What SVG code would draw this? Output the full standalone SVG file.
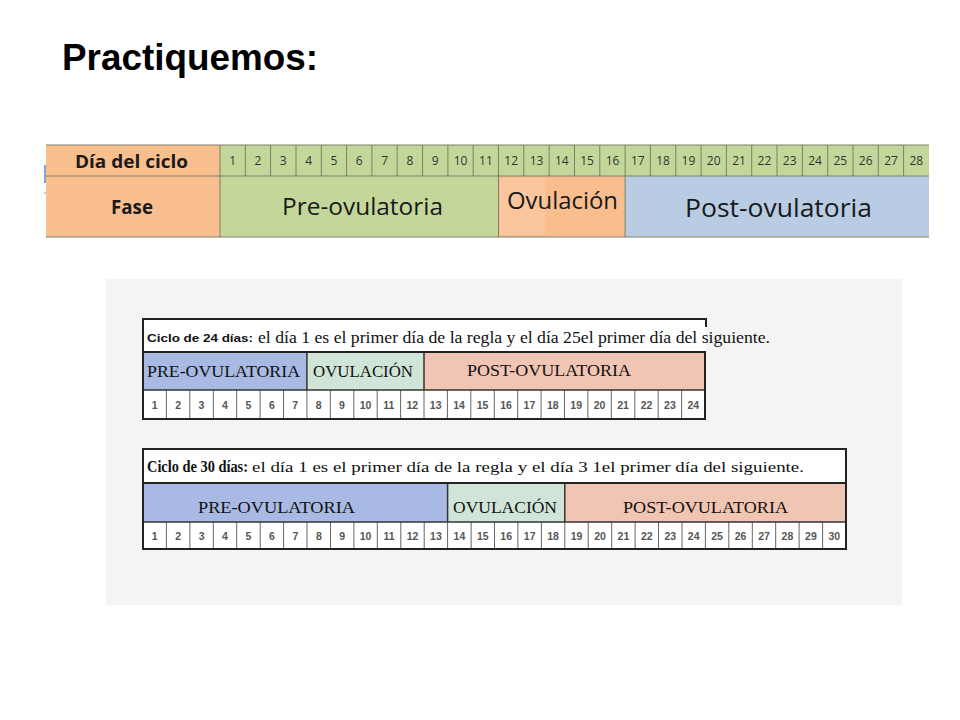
<svg xmlns="http://www.w3.org/2000/svg" width="960" height="720" viewBox="0 0 960 720">
<style>
.title{font-family:"Liberation Sans",Arial,sans-serif;font-weight:bold;font-size:37px;fill:#000}
.cal{font-family:"Open Sans","Noto Sans",sans-serif;fill:#1a1a1a}
.dnum{font-family:"Open Sans","Noto Sans",sans-serif;font-size:12px;fill:#333;text-anchor:middle}
.ser{font-family:"Liberation Serif","Times New Roman",serif;fill:#111}
.num{font-family:"Liberation Sans",Arial,sans-serif;font-weight:bold;font-size:10.5px;fill:#555;text-anchor:middle}
.tgrid{stroke:#7d8068;stroke-width:1;fill:none}
.grid{stroke:#666;stroke-width:1;fill:none}
.bord{stroke:#222;stroke-width:2;fill:none}
.sep{stroke:#333;stroke-width:1.5;fill:none}
</style>

<rect width="960" height="720" fill="#fff"/>
<text class="title" x="62" y="70" textLength="256" lengthAdjust="spacingAndGlyphs">Practiquemos:</text>

<g id="tabla-28">
  <rect x="46" y="145" width="174" height="92" fill="#FABF8F"/>
  <rect x="220" y="145" width="709" height="31" fill="#C4D79B"/>
  <rect x="220" y="176" width="278.5" height="61" fill="#C4D79B"/>
  <rect x="498.5" y="176" width="126.6" height="61" fill="#F9BD8E"/>
  <rect x="500" y="178" width="45" height="57" fill="#FBCBA6" opacity="0.6"/>
  <rect x="625.1" y="176" width="303.9" height="61" fill="#B8CCE4"/>
  <path class="tgrid" d="M46 145H929 M46 176H929 M46 237H929 M220 145V237 M498.5 176V237 M625.1 176V237"/>
  <path class="tgrid" d="M245.3 145V176 M270.6 145V176 M296 145V176 M321.3 145V176 M346.6 145V176 M371.9 145V176 M397.2 145V176 M422.6 145V176 M447.9 145V176 M473.2 145V176 M498.5 145V176 M523.8 145V176 M549.2 145V176 M574.5 145V176 M599.8 145V176 M625.1 145V176 M650.4 145V176 M675.8 145V176 M701.1 145V176 M726.4 145V176 M751.7 145V176 M777 145V176 M802.4 145V176 M827.7 145V176 M853 145V176 M878.3 145V176 M903.6 145V176"/>
  <line x1="45" y1="165" x2="45" y2="183" stroke="#5b88b8" stroke-width="1.5"/>
  <rect x="44.5" y="192.5" width="1" height="1" fill="#333"/>
  <text class="cal" x="75" y="168" font-size="18" font-weight="bold" textLength="113" lengthAdjust="spacingAndGlyphs">Día del ciclo</text>
  <text class="cal" x="111" y="214" font-size="19" font-weight="bold" textLength="42" lengthAdjust="spacingAndGlyphs">Fase</text>
  <text class="cal" x="282" y="215" font-size="24" textLength="161" lengthAdjust="spacingAndGlyphs">Pre-ovulatoria</text>
  <text class="cal" x="507" y="209" font-size="23" textLength="111" lengthAdjust="spacingAndGlyphs">Ovulación</text>
  <text class="cal" x="685" y="217" font-size="26" textLength="187" lengthAdjust="spacingAndGlyphs">Post-ovulatoria</text>
  <g>
    <text class="dnum" x="232.7" y="165">1</text><text class="dnum" x="258" y="165">2</text><text class="dnum" x="283.3" y="165">3</text><text class="dnum" x="308.6" y="165">4</text><text class="dnum" x="333.9" y="165">5</text><text class="dnum" x="359.3" y="165">6</text><text class="dnum" x="384.6" y="165">7</text><text class="dnum" x="409.9" y="165">8</text><text class="dnum" x="435.2" y="165">9</text><text class="dnum" x="460.5" y="165">10</text><text class="dnum" x="485.9" y="165">11</text><text class="dnum" x="511.2" y="165">12</text><text class="dnum" x="536.5" y="165">13</text><text class="dnum" x="561.8" y="165">14</text><text class="dnum" x="587.1" y="165">15</text><text class="dnum" x="612.5" y="165">16</text><text class="dnum" x="637.8" y="165">17</text><text class="dnum" x="663.1" y="165">18</text><text class="dnum" x="688.4" y="165">19</text><text class="dnum" x="713.7" y="165">20</text><text class="dnum" x="739.1" y="165">21</text><text class="dnum" x="764.4" y="165">22</text><text class="dnum" x="789.7" y="165">23</text><text class="dnum" x="815" y="165">24</text><text class="dnum" x="840.3" y="165">25</text><text class="dnum" x="865.7" y="165">26</text><text class="dnum" x="891" y="165">27</text><text class="dnum" x="916.3" y="165">28</text>
  </g>
</g>

<rect id="fondo" x="106" y="279" width="796" height="326" fill="#f4f4f4"/>

<g id="tabla-24">
  <rect x="143" y="319" width="563" height="33" fill="#fff"/>
  <rect x="143" y="352" width="163.9" height="38" fill="#A8B9E3"/>
  <rect x="306.9" y="352" width="117.1" height="38" fill="#D0E5D7"/>
  <rect x="424" y="352" width="281" height="38" fill="#F1C5B3"/>
  <rect x="143" y="390" width="562" height="29" fill="#fff"/>
  <path class="grid" d="M166.4 390V419 M189.8 390V419 M213.3 390V419 M236.7 390V419 M260.1 390V419 M283.5 390V419 M306.9 390V419 M330.3 390V419 M353.8 390V419 M377.2 390V419 M400.6 390V419 M424 390V419 M447.4 390V419 M470.8 390V419 M494.3 390V419 M517.7 390V419 M541.1 390V419 M564.5 390V419 M587.9 390V419 M611.3 390V419 M634.8 390V419 M658.2 390V419 M681.6 390V419"/>
  <path class="sep" d="M143 390H705 M306.9 352V390 M424 352V390"/>
  <path class="bord" d="M706 327V319H143V419H705V352 M143 352H706"/>
  <text x="147" y="342" font-family="Liberation Sans,Arial,sans-serif" font-weight="bold" font-size="11.5" fill="#111" textLength="106" lengthAdjust="spacingAndGlyphs">Ciclo de 24 días:</text>
  <text class="ser" x="258" y="343" font-size="16" textLength="512" lengthAdjust="spacingAndGlyphs">el día 1 es el primer día de la regla y el día 25el primer día del siguiente.</text>
  <text class="ser" x="147" y="377" font-size="17" fill="#1f2a5a" textLength="153" lengthAdjust="spacingAndGlyphs">PRE-OVULATORIA</text>
  <text class="ser" x="313" y="377" font-size="17" fill="#2f4a33" textLength="100" lengthAdjust="spacingAndGlyphs">OVULACIÓN</text>
  <text class="ser" x="467" y="376" font-size="17" fill="#4a2a1c" textLength="164" lengthAdjust="spacingAndGlyphs">POST-OVULATORIA</text>
  <g>
    <text class="num" x="154.7" y="409">1</text><text class="num" x="178.1" y="409">2</text><text class="num" x="201.5" y="409">3</text><text class="num" x="225" y="409">4</text><text class="num" x="248.4" y="409">5</text><text class="num" x="271.8" y="409">6</text><text class="num" x="295.2" y="409">7</text><text class="num" x="318.6" y="409">8</text><text class="num" x="342" y="409">9</text><text class="num" x="365.5" y="409">10</text><text class="num" x="388.9" y="409">11</text><text class="num" x="412.3" y="409">12</text><text class="num" x="435.7" y="409">13</text><text class="num" x="459.1" y="409">14</text><text class="num" x="482.5" y="409">15</text><text class="num" x="506" y="409">16</text><text class="num" x="529.4" y="409">17</text><text class="num" x="552.8" y="409">18</text><text class="num" x="576.2" y="409">19</text><text class="num" x="599.6" y="409">20</text><text class="num" x="623" y="409">21</text><text class="num" x="646.5" y="409">22</text><text class="num" x="669.9" y="409">23</text><text class="num" x="693.3" y="409">24</text>
  </g>
</g>

<g id="tabla-30">
  <rect x="143" y="449" width="703" height="34" fill="#fff"/>
  <rect x="143" y="483" width="304.6" height="39" fill="#A8B9E3"/>
  <rect x="447.6" y="483" width="117.2" height="39" fill="#D0E5D7"/>
  <rect x="564.8" y="483" width="281.2" height="39" fill="#F1C5B3"/>
  <rect x="143" y="522" width="703" height="27" fill="#fff"/>
  <path class="grid" d="M166.4 522V549 M189.9 522V549 M213.3 522V549 M236.7 522V549 M260.2 522V549 M283.6 522V549 M307 522V549 M330.5 522V549 M353.9 522V549 M377.3 522V549 M400.8 522V549 M424.2 522V549 M447.6 522V549 M471.1 522V549 M494.5 522V549 M517.9 522V549 M541.4 522V549 M564.8 522V549 M588.2 522V549 M611.7 522V549 M635.1 522V549 M658.5 522V549 M682 522V549 M705.4 522V549 M728.8 522V549 M752.3 522V549 M775.7 522V549 M799.1 522V549 M822.6 522V549"/>
  <path class="sep" d="M143 522H846 M447.6 483V522 M564.8 483V522"/>
  <path class="bord" d="M143 449H846V549H143Z M143 483H846"/>
  <text class="ser" x="147" y="472" font-size="16" font-weight="bold" textLength="101" lengthAdjust="spacingAndGlyphs">Ciclo de 30 días:</text>
  <text class="ser" x="252" y="472" font-size="15" textLength="552" lengthAdjust="spacingAndGlyphs">el día 1 es el primer día de la regla y el día 3 1el primer día del siguiente.</text>
  <text class="ser" x="198" y="513" font-size="17" fill="#1f2a5a" textLength="157" lengthAdjust="spacingAndGlyphs">PRE-OVULATORIA</text>
  <text class="ser" x="453" y="513" font-size="17" fill="#2f4a33" textLength="104" lengthAdjust="spacingAndGlyphs">OVULACIÓN</text>
  <text class="ser" x="623" y="513" font-size="17" fill="#4a2a1c" textLength="165" lengthAdjust="spacingAndGlyphs">POST-OVULATORIA</text>
  <g>
    <text class="num" x="154.7" y="539.5">1</text><text class="num" x="178.2" y="539.5">2</text><text class="num" x="201.6" y="539.5">3</text><text class="num" x="225" y="539.5">4</text><text class="num" x="248.5" y="539.5">5</text><text class="num" x="271.9" y="539.5">6</text><text class="num" x="295.3" y="539.5">7</text><text class="num" x="318.8" y="539.5">8</text><text class="num" x="342.2" y="539.5">9</text><text class="num" x="365.6" y="539.5">10</text><text class="num" x="389.1" y="539.5">11</text><text class="num" x="412.5" y="539.5">12</text><text class="num" x="435.9" y="539.5">13</text><text class="num" x="459.4" y="539.5">14</text><text class="num" x="482.8" y="539.5">15</text><text class="num" x="506.2" y="539.5">16</text><text class="num" x="529.7" y="539.5">17</text><text class="num" x="553.1" y="539.5">18</text><text class="num" x="576.5" y="539.5">19</text><text class="num" x="600" y="539.5">20</text><text class="num" x="623.4" y="539.5">21</text><text class="num" x="646.8" y="539.5">22</text><text class="num" x="670.3" y="539.5">23</text><text class="num" x="693.7" y="539.5">24</text><text class="num" x="717.1" y="539.5">25</text><text class="num" x="740.6" y="539.5">26</text><text class="num" x="764" y="539.5">27</text><text class="num" x="787.4" y="539.5">28</text><text class="num" x="810.9" y="539.5">29</text><text class="num" x="834.3" y="539.5">30</text>
  </g>
</g>
</svg>
